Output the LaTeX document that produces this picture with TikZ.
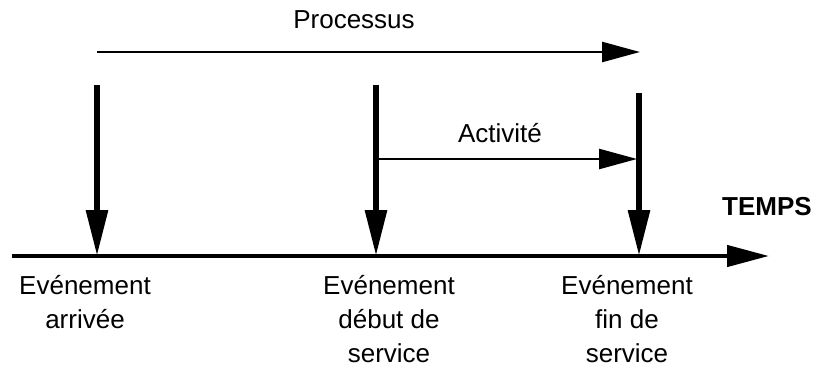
\documentclass[tikz,border=0pt]{standalone}
\usepackage{fontspec}
\setmainfont{Liberation Sans}
\usetikzlibrary{arrows.meta}
\begin{document}
\begin{tikzpicture}[x=1pt,y=-1pt,
  thinarrow/.style={line width=2.5pt,-{Triangle[length=38pt,width=20pt]}},
  thickarrow/.style={line width=6pt,-{Triangle[length=46pt,width=21pt]}},
  axisarrow/.style={line width=4.5pt,-{Triangle[length=42pt,width=21pt]}},
  lbl/.style={font=\fontsize{26}{34}\selectfont,inner sep=0pt,align=center},
  ttl/.style={font=\fontsize{26}{34}\selectfont,inner sep=0pt}]
\useasboundingbox (0,0) rectangle (817,367);
% coordinates
\coordinate (ax0) at (12,256);
\coordinate (ax1) at (769,256);
\coordinate (p0) at (97,52);
\coordinate (p1) at (640,52);
\coordinate (e1t) at (97,85);
\coordinate (e1b) at (97,256);
\coordinate (e2t) at (376,85);
\coordinate (e2b) at (376,256);
\coordinate (e3t) at (639,93);
\coordinate (e3b) at (639,256);
\coordinate (a0) at (376,159);
\coordinate (a1) at (637,159);
% arrows
\draw[axisarrow] (ax0) -- (ax1);
\draw[thinarrow] (p0) -- (p1);
\draw[thickarrow] (e1t) -- (e1b);
\draw[thickarrow] (e2t) -- (e2b);
\draw[thickarrow] (e3t) -- (e3b);
\draw[thinarrow] (a0) -- (a1);
% texts
\node[ttl] (proc) at (354,20) {Processus};
\node[ttl] (act) at (500,133) {Activité};
\node[ttl,font=\fontsize{26}{34}\selectfont\bfseries] (temps) at (767,207) {TEMPS};
\node[lbl,anchor=base] (l1) at (85,328) {Evénement\\arrivée};
\node[lbl,anchor=base] (l2) at (389,362) {Evénement\\début de\\service};
\node[lbl,anchor=base] (l3) at (627,362) {Evénement\\fin de\\service};
\end{tikzpicture}
\end{document}
